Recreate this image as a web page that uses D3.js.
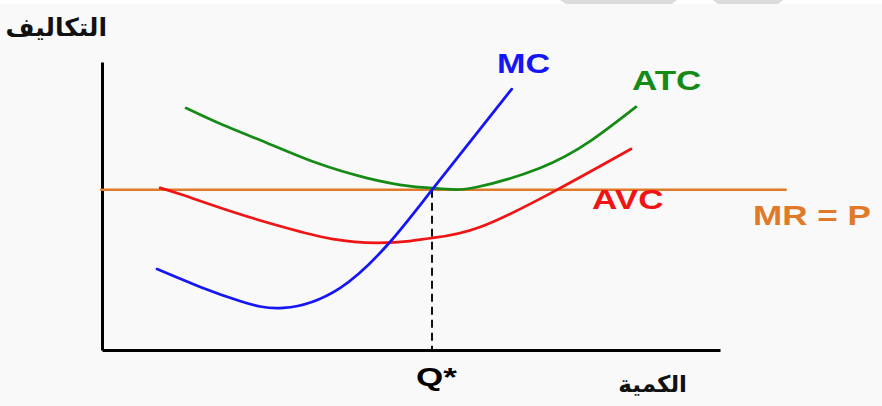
<!DOCTYPE html>
<html>
<head>
<meta charset="utf-8">
<script src="https://cdn.jsdelivr.net/npm/d3@7"></script>
<style>
body { margin: 0; background: #f9f9f9; }
</style>
</head>
<body>
<div id="canvas"></div>
<script>
// ----------------------------------------------------------
// DATA -----------------------------------------------------
// ----------------------------------------------------------
var mc_points = [
[0.89, 2.81], [1.59, 2.19], [2.23, 1.70], [2.93, 1.46],
[3.85, 2.15], [4.66, 3.75], [5.34, 5.56], [6.63, 9.06]
];
var atc_points = [
[1.36, 8.40], [1.96, 7.81], [2.67, 7.19], [3.48, 6.49], [4.29, 5.97],
[4.98, 5.69], [5.55, 5.59], [6.07, 5.66], [7.09, 6.32], [7.90, 7.25], [8.64, 8.44]
];
var avc_points = [
[0.94, 5.63], [1.31, 5.38], [2.12, 4.79], [2.93, 4.27], [3.74, 3.85], [4.45, 3.72],
[4.98, 3.78], [5.34, 3.89], [6.12, 4.27], [7.36, 5.56], [8.56, 6.98]
];
var price = 5.56;
var price_range = [-0.03, 11.08];
var q_star = 5.34;

var labels = {
y_title: "التكاليف",
x_title: "الكمية",
q: "Q*",
mc: "MC",
atc: "ATC",
avc: "AVC",
mr: "MR = P"
};

var colors = {
mc: "#1515f5",
atc: "#158a15",
avc: "#f01414",
mr: "#e07a28",
axis: "#000"
};

// ----------------------------------------------------------
// STRUCTURE ------------------------------------------------
// ----------------------------------------------------------
var W = 882, H = 406;

var svg = d3.select("#canvas").append("svg")
.attr("width", W)
.attr("height", H)
.style("background-color", "#f9f9f9")
.style("display", "block");

// top strip (screen capture leftovers)
svg.append("rect").attr("x", 0).attr("y", 0).attr("width", W).attr("height", 4).style("fill", "#fff");
svg.append("path").attr("d", "M560,0 L677,0 L672,4 L566,4 Z").style("fill", "#dcdcdc");
svg.append("path").attr("d", "M713,0 L783,0 L778,4 L718,4 Z").style("fill", "#dcdcdc");

var x = d3.scaleLinear().domain([0, 10]).range([102, 720]);
var y = d3.scaleLinear().domain([0, 10]).range([350, 62]);

var line = d3.line()
.x((d) => x(d[0]))
.y((d) => y(d[1]))
.curve(d3.curveNatural);

// ----------------------------------------------------------
// AXES -----------------------------------------------------
// ----------------------------------------------------------
svg.append("g")
.attr("transform", `translate(0, ${y(0)})`)
.call(d3.axisBottom(x).tickValues([]).tickSizeOuter(0));
svg.append("g")
.attr("transform", `translate(${x(0)}, 0)`)
.call(d3.axisLeft(y).tickValues([]).tickSizeOuter(0));

svg.selectAll(".domain")
.style("stroke", colors.axis)
.style("stroke-width", 3);

// dashed Q* line
svg.append("line")
.attr("x1", x(q_star)).attr("x2", x(q_star))
.attr("y1", y(price)).attr("y2", y(0))
.style("stroke", "#111")
.style("stroke-width", 2)
.style("stroke-dasharray", "8,5");

// ----------------------------------------------------------
// CURVES ---------------------------------------------------
// ----------------------------------------------------------
svg.append("line")
.attr("x1", x(price_range[0])).attr("x2", x(price_range[1]))
.attr("y1", y(price)).attr("y2", y(price))
.style("stroke", colors.mr)
.style("stroke-width", 2.5);

[["atc", atc_points], ["avc", avc_points], ["mc", mc_points]].forEach(function (s) {
svg.append("path")
.datum(s[1])
.attr("d", line)
.style("fill", "none")
.style("stroke", colors[s[0]])
.style("stroke-width", 2.7)
.style("stroke-linecap", "round");
});

// ----------------------------------------------------------
// TEXT -----------------------------------------------------
// ----------------------------------------------------------
function label(txt, px, py, color, size, sx) {
svg.append("text")
.attr("transform", `translate(${px}, ${py}) scale(${sx}, 1)`)
.style("font-family", "'Liberation Sans', Arial, sans-serif")
.style("font-weight", "bold")
.style("font-size", size + "px")
.style("fill", color)
.text(txt);
}
label(labels.mc, 497, 73, colors.mc, 28, 1.22);
label(labels.atc, 632, 90, colors.atc, 28, 1.25);
label(labels.avc, 592, 209, colors.avc, 27, 1.3);
label(labels.mr, 753, 225, colors.mr, 27, 1.3);
label(labels.q, 416, 386, "#000", 25, 1.4);

function arabic(txt, px, py, size) {
svg.append("text")
.attr("x", px).attr("y", py)
.attr("direction", "rtl")
.attr("text-anchor", "start")
.style("font-family", "'DejaVu Sans', sans-serif")
.style("font-weight", "bold")
.style("font-size", size + "px")
.style("fill", "#111")
.text(txt);
}
arabic(labels.y_title, 107, 36, 25);
arabic(labels.x_title, 687, 392, 23);
</script>
</body>
</html>
